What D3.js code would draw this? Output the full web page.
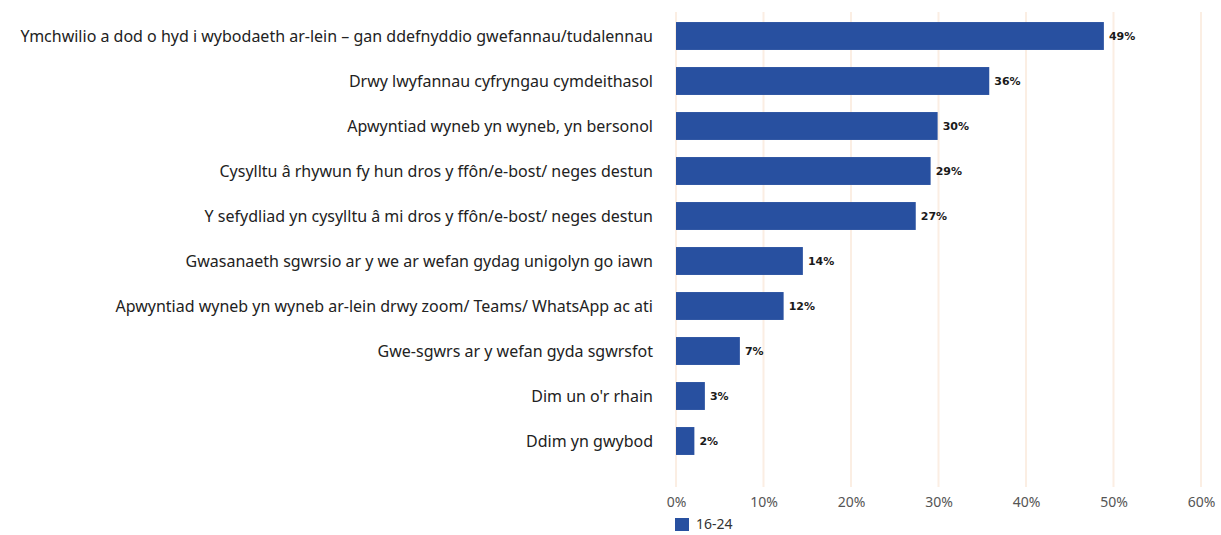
<!DOCTYPE html>
<html><head><meta charset="utf-8">
<script src="https://cdn.jsdelivr.net/npm/d3@7"></script>
<style>body{margin:0;background:#fff;} svg{display:block;}</style>
</head><body>
<svg id="c" width="1221" height="535"></svg>
<script>
const categories = [
  "Ymchwilio a dod o hyd i wybodaeth ar-lein – gan ddefnyddio gwefannau/tudalennau",
  "Drwy lwyfannau cyfryngau cymdeithasol",
  "Apwyntiad wyneb yn wyneb, yn bersonol",
  "Cysylltu â rhywun fy hun dros y ffôn/e-bost/ neges destun",
  "Y sefydliad yn cysylltu â mi dros y ffôn/e-bost/ neges destun",
  "Gwasanaeth sgwrsio ar y we ar wefan gydag unigolyn go iawn",
  "Apwyntiad wyneb yn wyneb ar-lein drwy zoom/ Teams/ WhatsApp ac ati",
  "Gwe-sgwrs ar y wefan gyda sgwrsfot",
  "Dim un o'r rhain",
  "Ddim yn gwybod"
];
// bar lengths
const values = [48.9, 35.8, 29.9, 29.1, 27.4, 14.5, 12.3, 7.3, 3.3, 2.1];
// printed labels
const valueLabels = ["49%", "36%", "30%", "29%", "27%", "14%", "12%", "7%", "3%", "2%"];
const seriesName = "16-24";
const xTicks = [0, 10, 20, 30, 40, 50, 60];

const svg = d3.select("#c");
const x = d3.scaleLinear().domain([0, 60]).range([676, 1201]);
const y = d3.scaleBand().domain(categories).range([13.5, 463.5]).paddingInner(0.38).paddingOuter(0.19);

// gridlines
svg.append("g").selectAll("line").data(xTicks).join("line")
  .attr("x1", d => x(d)).attr("x2", d => x(d))
  .attr("y1", 12).attr("y2", 487)
  .attr("stroke", "#fbeee3").attr("stroke-width", 2);

// bars
svg.append("g").selectAll("rect").data(values).join("rect")
  .attr("x", x(0)).attr("y", (d, i) => y(categories[i]))
  .attr("width", d => x(d) - x(0)).attr("height", y.bandwidth())
  .attr("fill", "#2850a0");

// value labels
svg.append("g").selectAll("text").data(values).join("text")
  .attr("x", d => x(d) + 5).attr("y", (d, i) => y(categories[i]) + y.bandwidth() / 2)
  .attr("dy", "0.35em")
  .attr("font-family", "DejaVu Sans, sans-serif").attr("font-weight", "bold")
  .attr("font-size", 11).attr("fill", "#1a1a1a")
  .text((d, i) => valueLabels[i]);

// category labels
svg.append("g").selectAll("text").data(categories).join("text")
  .attr("x", 653).attr("y", d => y(d) + y.bandwidth() / 2)
  .attr("dy", "0.35em").attr("text-anchor", "end")
  .attr("font-family", "Noto Sans, sans-serif").attr("font-size", 16)
  .attr("fill", "#222")
  .text(d => d);

// x axis
const ax = svg.append("g").attr("transform", "translate(0,487)")
  .call(d3.axisBottom(x).tickValues(xTicks).tickFormat(d => d + "%").tickSize(0).tickPadding(10));
ax.select(".domain").remove();
ax.selectAll("text").attr("font-family", "Noto Sans, sans-serif").attr("font-size", 14).attr("fill", "#555");

// legend
const lg = svg.append("g").attr("transform", "translate(675,518)");
lg.append("rect").attr("width", 14).attr("height", 13).attr("fill", "#2850a0");
lg.append("text").attr("x", 21).attr("y", 6.5).attr("dy", "0.35em")
  .attr("font-family", "Noto Sans, sans-serif").attr("font-size", 14).attr("fill", "#333").text(seriesName);
</script>
</body></html>
